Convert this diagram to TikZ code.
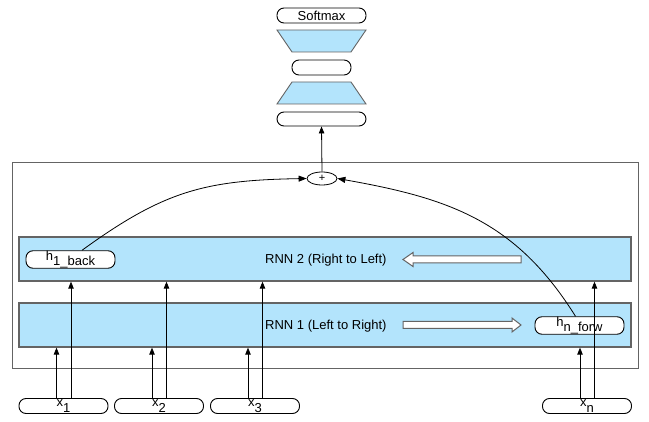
\documentclass[tikz,border=0pt]{standalone}
\usepackage{fontspec}
\setmainfont{Liberation Sans}
\usetikzlibrary{arrows.meta,shapes.geometric,calc}
\definecolor{bandblue}{RGB}{179,228,252}
\definecolor{edgegray}{RGB}{100,100,100}
\newcommand{\lowsub}[1]{\raisebox{-5.5pt}{#1}}
\begin{document}
\begin{tikzpicture}[x=1pt,y=-1pt,
  font=\fontsize{13}{15}\selectfont,
  pill/.style={draw=black,fill=white,line width=0.9pt,rounded corners=7pt,inner sep=0pt,minimum width=89pt,minimum height=15pt},
  bandbox/.style={draw=edgegray,fill=bandblue,line width=1.3pt,inner sep=0pt,minimum width=612pt,minimum height=44pt},
  trap/.style={draw=edgegray,fill=bandblue,line width=0.9pt},
  blockarr/.style={draw=edgegray,fill=white,line width=1pt},
  arr/.style={draw=black,line width=0.8pt,-{Triangle[length=7pt,width=5.5pt]}},
  curvearr/.style={draw=black,line width=0.8pt,-{Triangle[length=8pt,width=6pt]}},
  lbl/.style={inner sep=0pt,anchor=base west}]
\useasboundingbox (0,0) rectangle (649,422);

% top stack
\node[pill] (softmax) at (321.5,15.5) {Softmax};
\draw[trap] (277,30) -- (366,30) -- (351,52) -- (292,52) -- cycle;
\node[pill,minimum width=59pt] (mid) at (321.5,67.5) {};
\draw[trap] (292,82) -- (351,82) -- (366,104) -- (277,104) -- cycle;
\node[pill,minimum height=14pt] (dense) at (321.5,119) {};

% outer container
\node[draw=edgegray,line width=1pt,inner sep=0pt,minimum width=626pt,minimum height=206pt] (outer) at (325,266) {};

% bands
\node[bandbox] (rnn2) at (325,259) {};
\node[bandbox] (rnn1) at (325,325) {};
\node[lbl] (rnn2lbl) at (265,264) {RNN 2 (Right to Left)};
\node[lbl] (rnn1lbl) at (265,330) {RNN 1 (Left to Right)};

% block arrows
\draw[blockarr] (521,256) -- (413,256) -- (413,252.5) -- (403,259.5) -- (413,266.5) -- (413,263) -- (521,263) -- cycle;
\draw[blockarr] (403,321.5) -- (512,321.5) -- (512,318) -- (521,325) -- (512,332) -- (512,328.5) -- (403,328.5) -- cycle;

% hidden state pills
\node[pill] (hback) at (70.5,259.5) {h\lowsub{1\_back}};
\node[pill] (hforw) at (579.5,325.5) {h\lowsub{n\_forw}};

% plus
\node[draw=black,line width=0.8pt,fill=white,ellipse,inner sep=0pt,minimum width=30pt,minimum height=13pt,font=\fontsize{11}{11}\selectfont] (plus) at (322,178.5) {+};

% inputs
\node[pill] (x1) at (63.5,406) {x\lowsub{1}};
\node[pill] (x2) at (159,406) {x\lowsub{2}};
\node[pill] (x3) at (255,406) {x\lowsub{3}};
\node[pill] (xn) at (587,406) {x\lowsub{n}};

% input connectors
\foreach \n in {x1,x2,x3,xn}{
  \draw[arr] ([xshift=-7pt]\n.north) -- ([xshift=-7pt]\n.north |- rnn1.south);
  \draw[arr] ([xshift=7.5pt]\n.north) -- ([xshift=7.5pt]\n.north |- rnn2.south);
}

% merge
\draw[curvearr] ([xshift=11.5pt]hback.north) to[out=36,in=181,looseness=1.1] (plus.west);
\draw[curvearr] ([xshift=-4pt]hforw.north) to[out=122,in=-10,looseness=1.05] (plus.east);
\draw[arr] (plus.north) -- (dense.south);
\end{tikzpicture}
\end{document}
